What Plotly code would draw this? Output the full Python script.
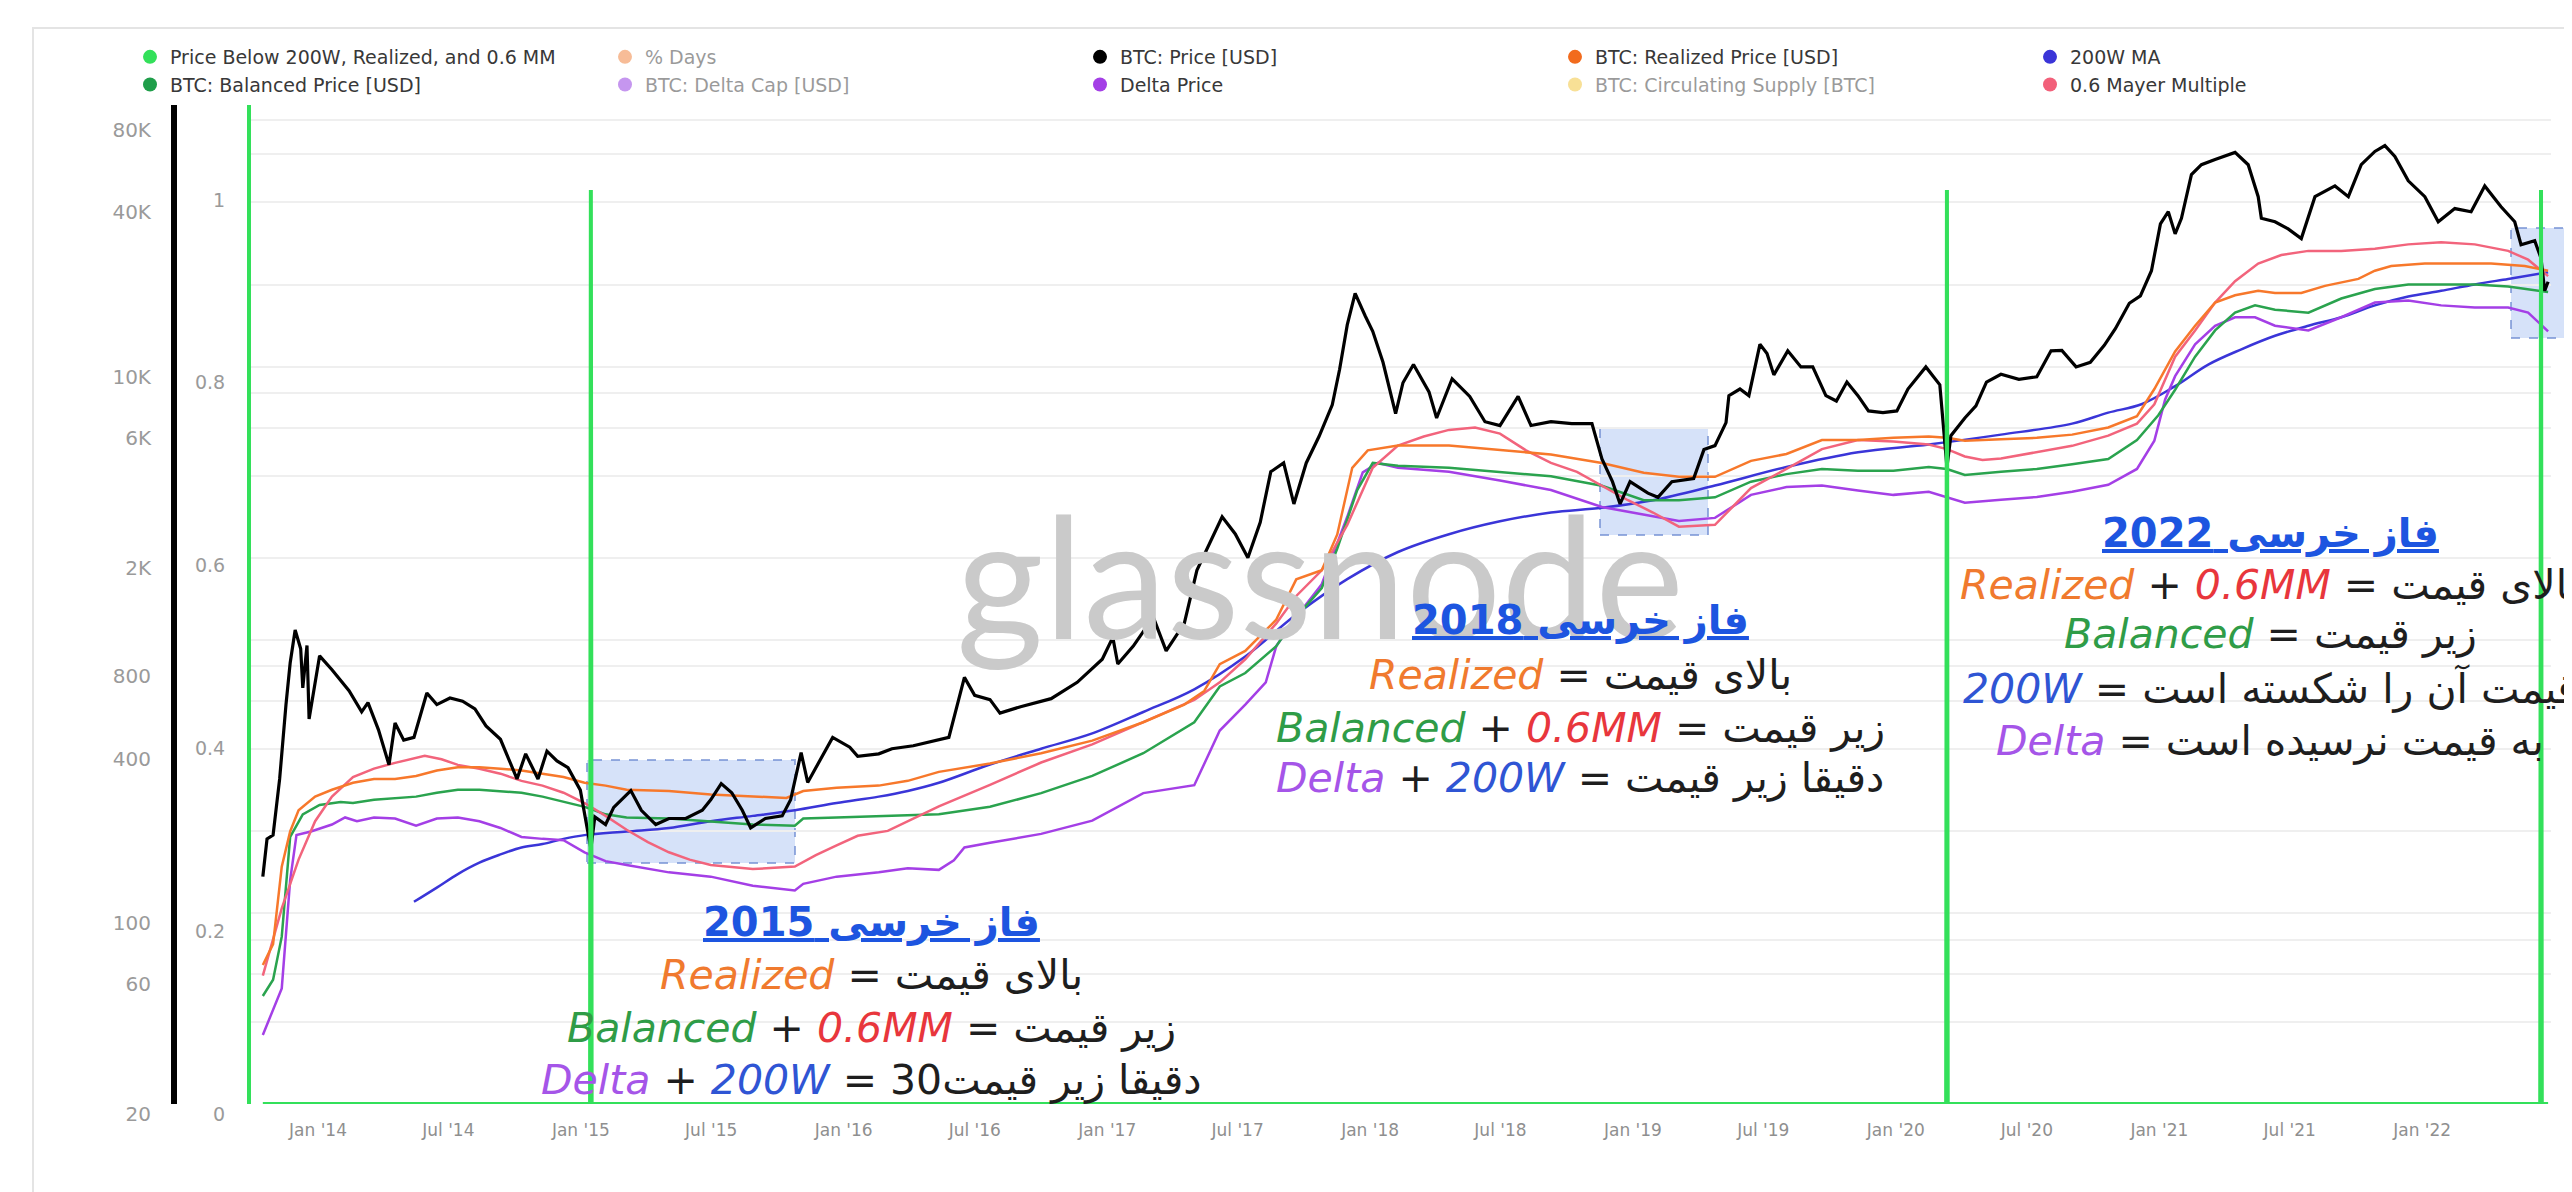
import math
import pandas as pd
import plotly.graph_objects as go

# ---------------- data (time as decimal year) ----------------
price_t = [2013.790, 2013.806, 2013.829, 2013.854, 2013.878, 2013.894, 2013.913, 2013.934, 2013.942, 2013.958,
           2013.966, 2014.006, 2014.053, 2014.118, 2014.166, 2014.190, 2014.230, 2014.270, 2014.293, 2014.326,
           2014.365, 2014.414, 2014.452, 2014.502, 2014.550, 2014.597, 2014.639, 2014.694, 2014.757, 2014.790,
           2014.837, 2014.871, 2014.909, 2014.951, 2014.998, 2015.038, 2015.053, 2015.094, 2015.125, 2015.190,
           2015.230, 2015.285, 2015.335, 2015.399, 2015.462, 2015.494, 2015.534, 2015.574, 2015.614, 2015.646,
           2015.702, 2015.766, 2015.798, 2015.838, 2015.863, 2015.894, 2015.958, 2016.023, 2016.053, 2016.133,
           2016.183, 2016.264, 2016.399, 2016.458, 2016.497, 2016.555, 2016.593, 2016.671, 2016.787, 2016.886,
           2016.981, 2017.021, 2017.040, 2017.099, 2017.175, 2017.224, 2017.293, 2017.341, 2017.388, 2017.437,
           2017.487, 2017.535, 2017.582, 2017.622, 2017.671, 2017.710, 2017.757, 2017.806, 2017.856, 2017.884,
           2017.913, 2017.943, 2017.981, 2018.010, 2018.049, 2018.097, 2018.125, 2018.165, 2018.224, 2018.253,
           2018.312, 2018.379, 2018.437, 2018.494, 2018.563, 2018.612, 2018.688, 2018.767, 2018.844, 2018.882,
           2018.922, 2018.951, 2018.989, 2019.057, 2019.095, 2019.148, 2019.231, 2019.270, 2019.312, 2019.354,
           2019.365, 2019.407, 2019.441, 2019.483, 2019.510, 2019.536, 2019.589, 2019.639, 2019.684, 2019.734,
           2019.774, 2019.814, 2019.856, 2019.896, 2019.951, 2020.004, 2020.046, 2020.114, 2020.167, 2020.194,
           2020.209, 2020.262, 2020.304, 2020.344, 2020.399, 2020.467, 2020.535, 2020.589, 2020.630, 2020.684,
           2020.738, 2020.791, 2020.833, 2020.886, 2020.928, 2020.970, 2021.004, 2021.034, 2021.060, 2021.084,
           2021.122, 2021.160, 2021.212, 2021.288, 2021.338, 2021.376, 2021.388, 2021.440, 2021.490, 2021.540,
           2021.592, 2021.668, 2021.719, 2021.768, 2021.820, 2021.858, 2021.896, 2021.947, 2022.010, 2022.061,
           2022.124, 2022.186, 2022.238, 2022.300, 2022.352, 2022.376, 2022.428, 2022.452, 2022.466, 2022.479]
price_v = [136, 187, 193, 310, 579, 824, 1088, 929, 668, 955,
           514, 875, 778, 652, 546, 590, 469, 349, 497, 430,
           440, 640, 580, 613, 597, 559, 485, 433, 310, 383,
           310, 392, 361, 341, 282, 172, 225, 211, 244, 281,
           238, 211, 222, 222, 238, 260, 298, 276, 238, 205,
           222, 227, 260, 387, 301, 340, 440, 405, 375, 383,
           400, 410, 440, 730, 627, 605, 540, 570, 610, 700,
           850, 1023, 817, 950, 1213, 912, 1150, 1800, 2257, 2826,
           2445, 2000, 2700, 4130, 4450, 3150, 4450, 5570, 7260, 9800,
           14250, 18600, 15400, 13500, 10400, 6740, 8750, 10200, 8100, 6500,
           9050, 7800, 6300, 6100, 7800, 6100, 6300, 6200, 6200, 4600,
           3800, 3150, 3800, 3450, 3330, 3800, 3900, 4980, 5150, 6250,
           7850, 8300, 7850, 12100, 11200, 9350, 11450, 10000, 10000, 7850,
           7500, 8800, 7850, 6900, 6800, 6900, 8300, 10000, 8600, 4300,
           5600, 6500, 7200, 8800, 9400, 9000, 9200, 11450, 11500, 10000,
           10400, 12000, 13800, 17100, 18200, 22500, 33400, 37000, 30700, 35000,
           50600, 55000, 57500, 61000, 55000, 42000, 35000, 34000, 32000, 29500,
           42000, 46000, 42000, 55000, 61500, 64600, 59000, 48000, 42000, 34000,
           38000, 37000, 46000, 38600, 34000, 28000, 29000, 25000, 19000, 20500]

realized_t = [2013.790, 2013.829, 2013.862, 2013.894, 2013.926, 2013.989, 2014.053, 2014.133, 2014.213, 2014.293,
              2014.373, 2014.452, 2014.532, 2014.614, 2014.694, 2014.774, 2014.854, 2014.934, 2015.014, 2015.094,
              2015.174, 2015.335, 2015.494, 2015.654, 2015.782, 2015.846, 2015.973, 2016.133, 2016.243, 2016.361,
              2016.555, 2016.749, 2016.943, 2017.137, 2017.293, 2017.369, 2017.428, 2017.525, 2017.643, 2017.719,
              2017.816, 2017.875, 2017.932, 2017.991, 2018.106, 2018.300, 2018.494, 2018.688, 2018.882, 2019.041,
              2019.175, 2019.312, 2019.449, 2019.584, 2019.719, 2019.856, 2019.991, 2020.125, 2020.194, 2020.262,
              2020.399, 2020.535, 2020.669, 2020.806, 2020.915, 2020.981, 2021.060, 2021.136, 2021.212, 2021.288,
              2021.376, 2021.440, 2021.540, 2021.630, 2021.757, 2021.820, 2021.882, 2022.010, 2022.137, 2022.262,
              2022.390, 2022.479]
realized_v = [64.6, 77, 148, 199, 238, 267, 283, 300, 310, 310,
              318, 333, 342, 342, 338, 333, 324, 315, 300, 293,
              283, 280, 272, 267, 264, 280, 288, 293, 305, 329,
              353, 385, 428, 500, 580, 651, 816, 912, 1188, 1668,
              1800, 2436, 4270, 4950, 5150, 5150, 4950, 4780, 4450, 4100,
              3960, 3960, 4530, 4800, 5400, 5400, 5500, 5560, 5500, 5370,
              5430, 5500, 5650, 6000, 6600, 8300, 11400, 14150, 17200, 18300,
              19000, 18650, 18650, 19800, 21000, 22500, 23400, 23900, 23900, 23900,
              23400, 22500]

mayer_t = [2013.790, 2013.862, 2013.926, 2013.989, 2014.053, 2014.133, 2014.213, 2014.293, 2014.406, 2014.470,
           2014.532, 2014.614, 2014.694, 2014.774, 2014.854, 2014.934, 2015.014, 2015.094, 2015.174, 2015.255,
           2015.335, 2015.414, 2015.494, 2015.654, 2015.814, 2015.894, 2015.973, 2016.053, 2016.167, 2016.361,
           2016.555, 2016.749, 2016.943, 2017.137, 2017.331, 2017.428, 2017.525, 2017.643, 2017.719, 2017.816,
           2017.913, 2018.010, 2018.106, 2018.204, 2018.300, 2018.399, 2018.494, 2018.593, 2018.688, 2018.787,
           2018.882, 2018.981, 2019.076, 2019.175, 2019.312, 2019.449, 2019.584, 2019.719, 2019.856, 2019.991,
           2020.125, 2020.194, 2020.262, 2020.329, 2020.399, 2020.535, 2020.669, 2020.806, 2020.915, 2020.981,
           2021.060, 2021.136, 2021.212, 2021.288, 2021.376, 2021.464, 2021.567, 2021.692, 2021.820, 2021.947,
           2022.072, 2022.200, 2022.327, 2022.403, 2022.479]
mayer_v = [59, 104, 157, 217, 267, 315, 338, 355, 377, 366,
           349, 338, 324, 305, 293, 276, 253, 227, 202, 182,
           167, 157, 150, 145, 148, 163, 177, 192, 200, 246,
           295, 356, 415, 500, 603, 700, 850, 1150, 1450, 1800,
           2640, 4270, 5150, 5560, 5880, 6000, 5700, 4950, 4450, 4130,
           3670, 3250, 2930, 2600, 2640, 3600, 4230, 5000, 5400, 5330,
           5200, 5000, 4700, 4560, 4620, 4870, 5140, 5600, 6200, 7300,
           10900, 13600, 17200, 20600, 23900, 25700, 26600, 26600, 27100, 28100,
           28600, 28100, 26600, 24700, 21500]

balanced_t = [2013.790, 2013.829, 2013.862, 2013.894, 2013.942, 2014.006, 2014.086, 2014.133, 2014.213, 2014.293,
              2014.373, 2014.452, 2014.532, 2014.614, 2014.694, 2014.774, 2014.854, 2014.934, 2015.014, 2015.094,
              2015.174, 2015.335, 2015.494, 2015.654, 2015.814, 2015.846, 2015.973, 2016.133, 2016.361, 2016.555,
              2016.749, 2016.943, 2017.137, 2017.331, 2017.428, 2017.525, 2017.643, 2017.719, 2017.816, 2017.875,
              2017.951, 2018.010, 2018.106, 2018.300, 2018.494, 2018.688, 2018.882, 2019.041, 2019.175, 2019.312,
              2019.449, 2019.584, 2019.719, 2019.856, 2019.991, 2020.125, 2020.194, 2020.262, 2020.399, 2020.535,
              2020.669, 2020.806, 2020.915, 2020.996, 2021.060, 2021.136, 2021.212, 2021.288, 2021.364, 2021.440,
              2021.567, 2021.692, 2021.820, 2021.947, 2022.200, 2022.327, 2022.479]
balanced_v = [49.7, 57, 82, 190, 230, 249, 255, 253, 260, 264,
              267, 276, 283, 283, 280, 276, 267, 255, 245, 230,
              224, 222, 217, 211, 209, 222, 224, 227, 230, 245,
              275, 318, 385, 500, 676, 757, 950, 1213, 1550, 2160,
              3540, 4450, 4350, 4270, 4130, 3980, 3670, 3250, 3250, 3330,
              3800, 4050, 4230, 4170, 4170, 4300, 4230, 4020, 4130, 4230,
              4400, 4600, 5400, 6650, 8250, 10900, 13600, 15800, 16800, 16200,
              15800, 17800, 19300, 20050, 20050, 19700, 18800]

delta_t = [2013.790, 2013.829, 2013.862, 2013.894, 2013.918, 2013.973, 2014.053, 2014.103, 2014.148, 2014.213,
           2014.293, 2014.373, 2014.452, 2014.532, 2014.614, 2014.694, 2014.774, 2014.854, 2014.934, 2015.014,
           2015.094, 2015.174, 2015.335, 2015.494, 2015.654, 2015.814, 2015.846, 2015.973, 2016.133, 2016.243,
           2016.361, 2016.418, 2016.458, 2016.555, 2016.749, 2016.943, 2017.137, 2017.331, 2017.428, 2017.525,
           2017.603, 2017.643, 2017.719, 2017.816, 2017.913, 2017.972, 2018.030, 2018.106, 2018.300, 2018.494,
           2018.688, 2018.882, 2019.041, 2019.175, 2019.312, 2019.449, 2019.584, 2019.719, 2019.856, 2019.991,
           2020.125, 2020.194, 2020.262, 2020.399, 2020.535, 2020.669, 2020.806, 2020.915, 2020.981, 2021.022,
           2021.060, 2021.136, 2021.212, 2021.288, 2021.364, 2021.440, 2021.567, 2021.692, 2021.820, 2021.947,
           2022.072, 2022.200, 2022.327, 2022.403, 2022.479]
delta_v = [35.8, 44, 53, 132, 193, 199, 211, 224, 217, 224,
           222, 209, 222, 224, 217, 205, 190, 187, 185, 167,
           155, 150, 141, 136, 126, 121, 128, 136, 141, 146,
           144, 156, 174, 181, 195, 218, 275, 294, 466, 580,
           700, 950, 1213, 1600, 2826, 4110, 4450, 4270, 4130, 3840,
           3540, 3070, 2890, 2730, 2800, 3400, 3630, 3680, 3530, 3400,
           3490, 3330, 3180, 3260, 3340, 3490, 3700, 4230, 5370, 7600,
           9250, 12100, 14150, 15200, 15200, 14150, 13600, 15200, 17200, 17500,
           16800, 16500, 16500, 15800, 13500]

ma200w_t = [2014.365, 2014.452, 2014.532, 2014.614, 2014.694, 2014.774, 2014.854, 2014.934, 2015.014, 2015.174,
            2015.335, 2015.494, 2015.654, 2015.814, 2015.973, 2016.133, 2016.243, 2016.361, 2016.555, 2016.749,
            2016.943, 2017.137, 2017.331, 2017.525, 2017.719, 2017.913, 2018.106, 2018.300, 2018.494, 2018.688,
            2018.882, 2019.076, 2019.312, 2019.584, 2019.856, 2020.125, 2020.399, 2020.669, 2020.806, 2020.932,
            2021.060, 2021.186, 2021.312, 2021.440, 2021.567, 2021.692, 2021.820, 2021.947, 2022.072, 2022.200,
            2022.327, 2022.479]
ma200w_v = [110, 124, 139, 153, 164, 174, 179, 187, 193, 199,
            205, 217, 227, 238, 253, 267, 280, 300, 350, 400,
            455, 545, 660, 870, 1240, 1670, 2100, 2440, 2720, 2930,
            3050, 3250, 3680, 4300, 4870, 5200, 5650, 6200, 6800, 7300,
            8500, 10200, 11600, 13000, 14150, 15200, 16800, 18100, 19000, 20050,
            21000, 22200]

# Price Below 200W, Realized and 0.6 MM (0/1 indicator on the inner % axis)
below_t = [2013.790, 2015.035, 2015.038, 2015.041, 2020.191, 2020.194, 2020.197,
           2022.449, 2022.452, 2022.455, 2022.479]
below_v = [0, 0, 1, 0, 0, 1, 0, 0, 1, 0, 0]

price_tickvals = [20, 40, 60, 80, 100, 200, 400, 600, 800, 1000, 2000, 4000, 6000, 8000,
                  10000, 20000, 40000, 60000, 80000]
price_ticktext = ["20", "", "60", "", "100", "", "400", "", "800", "", "2K", "", "6K", "",
                  "10K", "", "40K", "", "80K"]

legend_names = ["Price Below 200W, Realized, and 0.6 MM", "% Days", "BTC: Price [USD]",
                "BTC: Realized Price [USD]", "200W MA", "BTC: Balanced Price [USD]",
                "BTC: Delta Cap [USD]", "Delta Price", "BTC: Circulating Supply [BTC]",
                "0.6 Mayer Multiple"]
legend_colors = ["#33e05a", "#f07c32", "#000000", "#f26b1d", "#3a35d8", "#1f9e4a",
                 "#8d2fe0", "#a43fe6", "#f2c230", "#f2607a"]
legend_hidden = [False, True, False, False, False, False, True, False, True, False]

C_BELOW = "#33e05a"
C_PRICE = "#000000"
C_REAL = "#f7782b"
C_BAL = "#2aa34e"
C_DELTA = "#a43fe6"
C_MA = "#3a35d8"
C_MM = "#f2647c"


def to_date(y):
    yr = int(math.floor(y))
    s = pd.Timestamp(year=yr, month=1, day=1)
    e = pd.Timestamp(year=yr + 1, month=1, day=1)
    return (s + (e - s) * (y - yr)).strftime("%Y-%m-%d %H:%M")


def dates(ts):
    return [to_date(t) for t in ts]


W, H = 2572, 1192
ML, MR, MT, MB = 0, 29, 97, 96
GW = W - ML - MR          # 2543
GH = H - MT - MB          # 999
PLOT_L = 243


def px(xp):
    return xp / GW


def py(yp):
    return (MT + GH - yp) / GH


fig = go.Figure()

# watermark (behind the lines)
fig.add_trace(go.Scatter(
    x=[to_date(2017.81)], y=[0.555], yaxis="y2", mode="text", text=["glassnode"],
    textfont=dict(size=168, color="#cacaca", family="Lato"),
    hoverinfo="skip", showlegend=False))

fig.add_trace(go.Scatter(x=dates(below_t), y=below_v, yaxis="y2", mode="lines",
                         line=dict(color=C_BELOW, width=4), showlegend=False))
fig.add_trace(go.Scatter(x=dates(ma200w_t), y=ma200w_v, mode="lines",
                         line=dict(color=C_MA, width=2.5, shape="spline"), showlegend=False))
fig.add_trace(go.Scatter(x=dates(delta_t), y=delta_v, mode="lines",
                         line=dict(color=C_DELTA, width=2.5), showlegend=False))
fig.add_trace(go.Scatter(x=dates(balanced_t), y=balanced_v, mode="lines",
                         line=dict(color=C_BAL, width=2.5), showlegend=False))
fig.add_trace(go.Scatter(x=dates(mayer_t), y=mayer_v, mode="lines",
                         line=dict(color=C_MM, width=2.5), showlegend=False))
fig.add_trace(go.Scatter(x=dates(realized_t), y=realized_v, mode="lines",
                         line=dict(color=C_REAL, width=2.5), showlegend=False))
fig.add_trace(go.Scatter(x=dates(price_t), y=price_v, mode="lines",
                         line=dict(color=C_PRICE, width=3.2), showlegend=False))

# legend entries (round dots like the original)
for name, col, hid in zip(legend_names, legend_colors, legend_hidden):
    fig.add_trace(go.Scatter(x=[None], y=[None], mode="markers", name=name,
                             marker=dict(color=col, size=14),
                             visible="legendonly" if hid else True))

# highlight boxes
box_style = dict(type="rect", xref="paper", yref="paper", layer="below",
                 fillcolor="rgba(120,160,235,0.30)",
                 line=dict(color="rgba(110,140,210,0.7)", width=2, dash="dash"))
shapes = [
    dict(x0=px(579), x1=px(787), y0=py(855), y1=py(752), **box_style),
    dict(x0=px(1592), x1=px(1700), y0=py(527), y1=py(420), **box_style),
    dict(x0=px(2503), x1=px(2600), y0=py(330), y1=py(220), **box_style),
    dict(type="rect", xref="paper", yref="paper", layer="below",
         x0=px(25), x1=px(2650), y0=py(1260), y1=py(20),
         line=dict(color="#e4e4e4", width=2), fillcolor="rgba(0,0,0,0)"),
]

# annotations
ORANGE, GREEN, RED, PURPLE, BLUE = "#f07a2e", "#2f9c47", "#e8363c", "#a555e8", "#2f55d4"
TITLE_BLUE = "#1d55e0"


def c(txt, col):
    return f'<span style="color:{col}"><i>{txt}</i></span>'


blocks = [
    (864, -10, [(924, f"<b><u>فاز خرسی 2015</u></b>", True),
                (977, f"{c('Realized', ORANGE)} = بالای قیمت", False),
                (1030, f"{c('Balanced', GREEN)} + {c('0.6MM', RED)} = زیر قیمت", False),
                (1082, f"{c('Delta', PURPLE)} + {c('200W', BLUE)} = دقیقا زیر قیمت30", False)]),
    (1572, -7, [(619, f"<b><u>فاز خرسی 2018</u></b>", True),
                (674, f"{c('Realized', ORANGE)} = بالای قیمت", False),
                (727, f"{c('Balanced', GREEN)} + {c('0.6MM', RED)} = زیر قیمت", False),
                (777, f"{c('Delta', PURPLE)} + {c('200W', BLUE)} = دقیقا زیر قیمت", False)]),
    (2262, -5, [(530, f"<b><u>فاز خرسی 2022</u></b>", True),
                (582, f"{c('Realized', ORANGE)} + {c('0.6MM', RED)} = بالای قیمت", False),
                (631, f"{c('Balanced', GREEN)} = زیر قیمت", False),
                (685, f"{c('200W', BLUE)} = قیمت آن را شکسته است", False),
                (738, f"{c('Delta', PURPLE)} = به قیمت نرسیده است", False)]),
]
annotations = []
for cx, dy, lines in blocks:
    for yy, txt, is_title in lines:
        annotations.append(dict(
            xref="paper", yref="paper", x=px(cx), y=py(yy + dy), xanchor="center", yanchor="middle",
            text=txt, showarrow=False,
            font=dict(family="DejaVu Sans, Liberation Sans", size=40 if is_title else 41,
                      color=TITLE_BLUE if is_title else "#1e1e1e")))

fig.update_layout(
    width=W, height=H, autosize=False,
    margin=dict(l=ML, r=MR, t=MT, b=MB, pad=0),
    paper_bgcolor="white", plot_bgcolor="rgba(0,0,0,0)",
    font=dict(family="DejaVu Sans, Liberation Sans", color="#444"),
    showlegend=True,
    legend=dict(orientation="h", x=px(122), xanchor="left", y=py(30), yanchor="top",
                entrywidth=430, entrywidthmode="pixels", traceorder="normal",
                font=dict(size=19, color="#383838"), bgcolor="rgba(0,0,0,0)",
                itemclick=False, itemdoubleclick=False),
    xaxis=dict(type="date", domain=[PLOT_L / GW, 1.0],
               range=[to_date(2013.745), to_date(2022.490)],
               tick0="2014-01-01", dtick="M6", tickformat="%b '%y",
               showgrid=False, zeroline=False, showline=False, ticks="",
               tickfont=dict(size=17, color="#8f8f8f"), ticklabelstandoff=14),
    yaxis=dict(type="log", range=[math.log10(20), math.log10(91000)],
               anchor="free", position=166 / GW, side="left",
               tickmode="array", tickvals=price_tickvals, ticktext=price_ticktext,
               showgrid=True, gridcolor="#efefef", gridwidth=1.5, zeroline=False,
               showline=True, linecolor="#000000", linewidth=6, ticks="",
               tickfont=dict(size=20, color="#9a9a9a"), ticklabelshift=10,
               ticklabelstandoff=16),
    yaxis2=dict(overlaying="y", anchor="x", side="left", range=[0, 1.093],
                tickmode="array", tickvals=[0, 0.2, 0.4, 0.6, 0.8, 1],
                ticktext=["0", "0.2", "0.4", "0.6", "0.8", "1"],
                showgrid=False, zeroline=False, showline=True, linecolor=C_BELOW,
                linewidth=4, ticks="", tickfont=dict(size=19, color="#9a9a9a"),
                ticklabelshift=10, ticklabelstandoff=18),
    shapes=shapes,
    annotations=annotations,
)

fig.write_html("out.html")
